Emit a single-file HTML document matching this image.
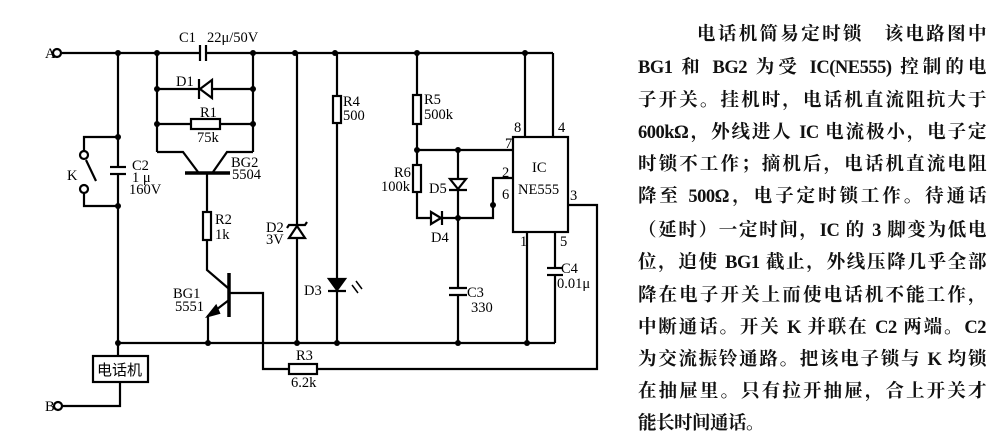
<!DOCTYPE html>
<html><head><meta charset="utf-8"><style>
body{margin:0;width:994px;height:439px;background:#fff;overflow:hidden;position:relative}
svg{position:absolute;left:0;top:0}
.t{position:absolute;left:638px;width:348px;font-family:"Liberation Serif","Noto Serif CJK SC",serif;font-size:18.5px;font-weight:bold;color:#111;text-align:justify;text-align-last:justify;white-space:nowrap;line-height:20px;letter-spacing:-0.5px}
</style></head><body>
<svg width="994" height="439" viewBox="0 0 994 439" font-family="Liberation Serif, serif" font-size="14.5" fill="none" stroke="#000" stroke-width="2.2">
<line x1="62" y1="53" x2="200" y2="53"/><line x1="207" y1="53" x2="553" y2="53"/>
<line x1="553" y1="53" x2="553" y2="137"/>
<line x1="200" y1="45" x2="200" y2="61"/><line x1="206" y1="45" x2="206" y2="61"/>
<circle cx="57" cy="53" r="4" fill="#fff"/>
<line x1="118" y1="53" x2="118" y2="167"/><line x1="118" y1="174" x2="118" y2="343"/>
<line x1="110" y1="167" x2="126" y2="167"/><line x1="110" y1="174" x2="126" y2="174"/>
<polyline points="118,137 84,137 84,151"/><circle cx="84" cy="155" r="4" fill="#fff"/>
<line x1="86" y1="160" x2="96" y2="181"/>
<circle cx="84" cy="189" r="4" fill="#fff"/><polyline points="84,193 84,206 118,206"/>
<line x1="157" y1="53" x2="157" y2="152"/><line x1="253" y1="53" x2="253" y2="152"/>
<line x1="157" y1="89" x2="200" y2="89"/><line x1="210" y1="89" x2="253" y2="89"/>
<polygon points="212,80 212,98 200,89" fill="#fff"/><line x1="199" y1="79" x2="199" y2="99"/>
<line x1="157" y1="124" x2="191" y2="124"/><line x1="220" y1="124" x2="253" y2="124"/>
<rect x="191" y="119" width="29" height="10" fill="#fff"/>
<polyline points="157,152 183,152 198,172"/><polyline points="253,152 227,152 213,172"/>
<line x1="185" y1="173" x2="230" y2="173" stroke-width="3.5"/>
<line x1="207" y1="173" x2="207" y2="212"/>
<rect x="203" y="212" width="8" height="28" fill="#fff"/>
<polyline points="207,240 207,270 228,288"/>
<line x1="229" y1="273" x2="229" y2="317" stroke-width="3.5"/>
<polyline points="229,300 208,316 208,343"/><polygon points="208,316 216,306 219,313" fill="#000"/>
<polyline points="229,293 263,293 263,369 289,369"/>
<rect x="289" y="364" width="28" height="10" fill="#fff"/>
<polyline points="317,369 597,369 597,205 568,205"/>
<line x1="297" y1="53" x2="297" y2="343"/>
<polygon points="289,238 305,238 297,226" fill="#fff"/><polyline points="287,228 289,225 305,225 307,222"/>
<line x1="337" y1="53" x2="337" y2="96"/><rect x="333" y="96" width="8" height="27" fill="#fff"/>
<line x1="337" y1="123" x2="337" y2="343"/>
<polygon points="329,279 345,279 337,290" fill="#000"/><line x1="328" y1="291" x2="346" y2="291"/>
<line x1="352" y1="285" x2="358" y2="293" stroke-width="1.5"/><line x1="356" y1="281" x2="362" y2="289" stroke-width="1.5"/>
<line x1="417" y1="53" x2="417" y2="95"/><rect x="413" y="95" width="8" height="29" fill="#fff"/>
<line x1="417" y1="124" x2="417" y2="165"/><line x1="417" y1="150" x2="513" y2="150"/>
<rect x="413" y="165" width="8" height="27" fill="#fff"/>
<polyline points="417,192 417,218 493,218 493,178 513,178"/>
<polygon points="431,212 431,224 441,218" fill="#fff"/><line x1="442" y1="211" x2="442" y2="225"/>
<line x1="458" y1="150" x2="458" y2="288"/><line x1="458" y1="295" x2="458" y2="343"/>
<polygon points="450,179 466,179 458,189" fill="#fff"/><line x1="449" y1="190" x2="467" y2="190"/>
<line x1="449" y1="288" x2="467" y2="288"/><line x1="449" y1="295" x2="467" y2="295"/>
<rect x="513" y="137" width="55" height="95" fill="#fff"/>
<line x1="525" y1="53" x2="525" y2="137"/>
<line x1="527" y1="232" x2="527" y2="343"/>
<line x1="555" y1="232" x2="555" y2="268"/><line x1="555" y1="275" x2="555" y2="343"/>
<line x1="547" y1="268" x2="563" y2="268"/><line x1="547" y1="275" x2="563" y2="275"/>
<line x1="118" y1="343" x2="555" y2="343"/>
<rect x="93" y="356" width="55" height="26" fill="#fff"/>
<line x1="118" y1="343" x2="118" y2="356"/><polyline points="120,382 120,406 62,406"/>
<circle cx="58" cy="406" r="4" fill="#fff"/>
<g fill="#000" stroke="none">
<circle cx="118" cy="53" r="3"/><circle cx="157" cy="53" r="3"/><circle cx="253" cy="53" r="3"/><circle cx="295" cy="53" r="3"/><circle cx="335" cy="53" r="3"/><circle cx="417" cy="53" r="3"/><circle cx="525" cy="53" r="3"/>
<circle cx="157" cy="89" r="3"/><circle cx="253" cy="89" r="3"/><circle cx="157" cy="124" r="3"/><circle cx="253" cy="124" r="3"/>
<circle cx="118" cy="137" r="3"/><circle cx="118" cy="206" r="3"/>
<circle cx="417" cy="150" r="3"/><circle cx="458" cy="150" r="3"/><circle cx="493" cy="205" r="3"/><circle cx="458" cy="218" r="3"/>
<circle cx="118" cy="343" r="3"/><circle cx="208" cy="343" r="3"/><circle cx="297" cy="343" r="3"/><circle cx="337" cy="343" r="3"/><circle cx="458" cy="343" r="3"/><circle cx="527" cy="343" r="3"/>
</g>
<g fill="#000" stroke="none">
<text x="45" y="58">A</text><text x="45" y="411">B</text>
<text x="179" y="42">C1</text><text x="207" y="42">22μ/50V</text>
<text x="176" y="86">D1</text><text x="200" y="117">R1</text><text x="197" y="142">75k</text>
<text x="231" y="167">BG2</text><text x="232" y="179">5504</text>
<text x="67" y="180">K</text>
<text x="132" y="170">C2</text><text x="132" y="182">1 μ</text><text x="129" y="194">160V</text>
<text x="215" y="224">R2</text><text x="215" y="239">1k</text>
<text x="266" y="232">D2</text><text x="266" y="244">3V</text>
<text x="343" y="106">R4</text><text x="343" y="120">500</text>
<text x="304" y="295">D3</text>
<text x="173" y="298">BG1</text><text x="175" y="311">5551</text>
<text x="296" y="360">R3</text><text x="291" y="387">6.2k</text>
<text x="424" y="104">R5</text><text x="424" y="119">500k</text>
<text x="394" y="177">R6</text><text x="381" y="191">100k</text>
<text x="429" y="193">D5</text><text x="431" y="242">D4</text>
<text x="467" y="297">C3</text><text x="471" y="312">330</text>
<text x="561" y="273">C4</text><text x="557" y="288">0.01μ</text>
<text x="514" y="132">8</text><text x="558" y="132">4</text><text x="505" y="148">7</text>
<text x="502" y="177">2</text><text x="502" y="199">6</text><text x="570" y="200">3</text>
<text x="520" y="246">1</text><text x="560" y="246">5</text>
<text x="532" y="172">IC</text><text x="518" y="194">NE555</text>
<text x="97" y="375" font-family="Noto Sans CJK SC, sans-serif" font-size="15">电话机</text>
</g>
</svg>
<div class="t" style="top:25px;left:697px;width:289px">电话机简易定时锁　该电路图中</div>
<div class="t" style="top:58px">BG1 和 BG2 为受 IC(NE555) 控制的电</div>
<div class="t" style="top:91px">子开关。挂机时，电话机直流阻抗大于</div>
<div class="t" style="top:123px">600kΩ，外线进人 IC 电流极小，电子定</div>
<div class="t" style="top:155px">时锁不工作；摘机后，电话机直流电阻</div>
<div class="t" style="top:187px">降至 500Ω，电子定时锁工作。待通话</div>
<div class="t" style="top:221px">（延时）一定时间，IC 的 3 脚变为低电</div>
<div class="t" style="top:253px">位，迫使 BG1 截止，外线压降几乎全部</div>
<div class="t" style="top:286px">降在电子开关上而使电话机不能工作，</div>
<div class="t" style="top:318px">中断通话。开关 K 并联在 C2 两端。C2</div>
<div class="t" style="top:350px">为交流振铃通路。把该电子锁与 K 均锁</div>
<div class="t" style="top:382px">在抽屉里。只有拉开抽屉，合上开关才</div>
<div class="t" style="top:414px;text-align-last:left">能长时间通话。</div>
</body></html>
